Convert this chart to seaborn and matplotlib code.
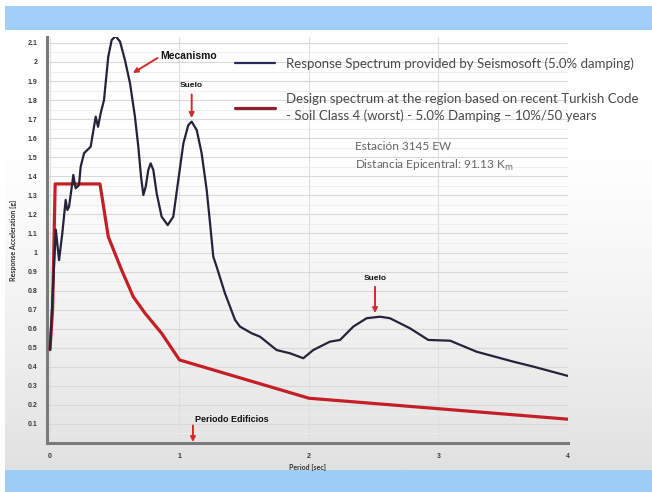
import numpy as np
import pandas as pd
import matplotlib
matplotlib.use("Agg")
import matplotlib.pyplot as plt
import seaborn as sns

# Response spectrum (Seismosoft, 5% damping): period [s], acceleration [g]
resp_period = [0.0, 0.045, 0.07, 0.095, 0.121, 0.134, 0.147, 0.172, 0.18,
               0.198, 0.224, 0.237, 0.263, 0.288, 0.314, 0.34, 0.353, 0.371,
               0.391, 0.417, 0.45, 0.476, 0.507, 0.541, 0.579, 0.618, 0.656,
               0.682, 0.703, 0.721, 0.739, 0.759, 0.777, 0.798, 0.824, 0.862,
               0.909, 0.952, 0.991, 1.03, 1.068, 1.094, 1.133, 1.171, 1.21,
               1.236, 1.261, 1.287, 1.351, 1.429, 1.467, 1.557, 1.622, 1.75,
               1.853, 1.956, 2.033, 2.085, 2.162, 2.24, 2.342, 2.445, 2.548,
               2.625, 2.78, 2.921, 3.09, 3.295, 3.578, 3.732, 4.0]
resp_accel = [0.49, 1.12, 0.96, 1.10, 1.276, 1.223, 1.24, 1.363, 1.407,
              1.337, 1.354, 1.45, 1.521, 1.538, 1.555, 1.66, 1.713, 1.66,
              1.73, 1.80, 2.028, 2.115, 2.136, 2.107, 2.01, 1.888, 1.713,
              1.555, 1.398, 1.302, 1.345, 1.433, 1.468, 1.433, 1.31, 1.188,
              1.144, 1.188, 1.381, 1.573, 1.669, 1.687, 1.643, 1.521, 1.328,
              1.153, 0.978, 0.925, 0.786, 0.646, 0.611, 0.576, 0.558, 0.488,
              0.471, 0.445, 0.488, 0.506, 0.532, 0.541, 0.611, 0.655, 0.663,
              0.655, 0.602, 0.541, 0.537, 0.479, 0.427, 0.401, 0.352]

# Design spectrum, Turkish Code, soil class 4, 5% damping, 10%/50 years
design_period = [0.0, 0.02, 0.04, 0.386, 0.45, 0.553, 0.643, 0.734, 0.862,
                 1.0, 2.0, 3.0, 4.0]
design_accel = [0.49, 0.70, 1.36, 1.36, 1.083, 0.908, 0.768, 0.681, 0.576,
                0.436, 0.235, 0.18, 0.125]

y_ticks = [0.1, 0.2, 0.3, 0.4, 0.5, 0.6, 0.7, 0.8, 0.9, 1.0, 1.1, 1.2, 1.3,
           1.4, 1.5, 1.6, 1.7, 1.8, 1.9, 2.0, 2.1]
x_ticks = [0, 1, 2, 3, 4]

resp_label = "Response Spectrum provided by Seismosoft (5.0% damping)"
design_label = ("Design spectrum at the region based on recent Turkish Code\n"
                "- Soil Class 4 (worst) - 5.0% Damping \u2013 10%/50 years")

sns.set_theme(style="white")
plt.rcParams["font.family"] = ["Lato", "DejaVu Sans"]

W, H = 652, 492
fig = plt.figure(figsize=(W / 100, H / 100), dpi=100)
fig.patch.set_facecolor("white")


def fx(px):
    return px / W


def fy(py):
    return 1 - py / H


# slide background: white-to-grey gradient with blue bands top and bottom
bg = fig.add_axes([0, 0, 1, 1], zorder=-10)
bg.set_xlim(0, W)
bg.set_ylim(H, 0)
bg.axis("off")
grad = np.linspace(0, 1, 256)[:, None]
grad = np.clip((grad - 0.25) / 0.75, 0, 1) ** 1.3
cmap = matplotlib.colors.LinearSegmentedColormap.from_list("bgc", ["#ffffff", "#e1e1e1"])
bg.imshow(grad, extent=[5, W, 470, 30], aspect="auto", cmap=cmap, vmin=0, vmax=1)
bg.add_patch(plt.Rectangle((5, 6), W - 5, 24, color="#a2cff7", lw=0))
bg.add_patch(plt.Rectangle((5, 470), W - 5, 22, color="#9ecdf7", lw=0))

# main plot area
x0, x1 = -0.02, 4.0
y0, y1 = 0.0, 2.13
left_px, right_px = 47.4, 568.0
bottom_px, top_px = 443.0, 443.0 - 2.13 * 190.5
ax = fig.add_axes([fx(left_px), fy(bottom_px), fx(right_px - left_px),
                   (bottom_px - top_px) / H])
ax.set_facecolor("none")

resp_df = pd.DataFrame({"period": resp_period, "accel": resp_accel})
design_df = pd.DataFrame({"period": design_period, "accel": design_accel})

sns.lineplot(data=resp_df, x="period", y="accel", ax=ax, color="#23243a",
             lw=1.6, sort=False, label=resp_label, zorder=4)
sns.lineplot(data=design_df, x="period", y="accel", ax=ax, color="#c41f26",
             lw=2.3, sort=False, label=design_label, zorder=3)
for ln in ax.lines:
    ln.set_solid_joinstyle("round")
    ln.set_solid_capstyle("round")

ax.set_xlim(x0, x1)
ax.set_ylim(y0, y1)
ax.set_xticks(x_ticks)
ax.set_xticklabels([f"{v:g}" for v in x_ticks])
ax.set_yticks(y_ticks)
ax.set_yticklabels([f"{v:g}" for v in y_ticks])
ax.set_yticks(np.arange(0.05, 2.13, 0.1), minor=True)
ax.tick_params(axis="both", length=0, labelsize=5, colors="#3a3a3a", pad=7)
for lab in ax.get_xticklabels() + ax.get_yticklabels():
    lab.set_family(["Liberation Sans", "DejaVu Sans"])
    lab.set_fontweight("bold")
ax.grid(axis="y", which="major", color="#d9d9d9", lw=0.8)
ax.grid(axis="y", which="minor", color="#ececec", lw=0.6)
ax.grid(axis="x", which="major", color="#dedede", lw=0.8)
for s in ["top", "right"]:
    ax.spines[s].set_visible(False)
for s in ["left", "bottom"]:
    ax.spines[s].set_color("#7a7a7a")
    ax.spines[s].set_linewidth(2.2)
ax.set_xlabel("Period [sec]", fontsize=5, color="#333333", labelpad=3,
              fontweight="bold")
ax.set_ylabel("Response Acceleration [g]", fontsize=5, color="#333333",
              labelpad=8, fontweight="bold")

leg = ax.legend(loc="upper left", bbox_to_anchor=(fx(235), fy(57)),
                bbox_transform=fig.transFigure, frameon=False, fontsize=9.5,
                handlelength=3.0, handletextpad=0.9, labelspacing=1.8,
                borderpad=0, borderaxespad=0)
for t in leg.get_texts():
    t.set_color("#4a4a4a")
    t.set_linespacing(1.4)
leg.legend_handles[1].set_color("#8e1f2c")
leg.legend_handles[0].set_color("#272a58")

fig.text(fx(355), fy(147), "Estación 3145 EW", fontsize=8.5, color="#666666",
         va="center")
fig.text(fx(355), fy(165), "Distancia Epicentral: 91.13 K$_{\\mathrm{m}}$",
         fontsize=8.5, color="#666666", va="center")

arrow = dict(arrowstyle="-|>", color="#d42a2a", lw=1.4, mutation_scale=7,
             shrinkA=0, shrinkB=0)
ann_font = dict(family=["Liberation Sans", "DejaVu Sans"], fontweight="bold",
                color="#111111")

ax.text(0.85, 2.03, "Mecanismo", fontsize=7.5, ha="left", va="center", **ann_font)
ax.annotate("", xy=(0.64, 1.942), xytext=(0.83, 2.021), arrowprops=arrow)

ax.text(1.094, 1.875, "Suelo", fontsize=6, ha="center", va="center", **ann_font)
ax.annotate("", xy=(1.094, 1.706), xytext=(1.094, 1.830), arrowprops=arrow)

ax.text(2.51, 0.865, "Suelo", fontsize=6, ha="center", va="center", **ann_font)
ax.annotate("", xy=(2.51, 0.682), xytext=(2.51, 0.820), arrowprops=arrow)

ax.text(1.12, 0.121, "Periodo Edificios", fontsize=6.5, ha="left", va="center",
        **ann_font)
ax.annotate("", xy=(1.104, 0.005), xytext=(1.104, 0.092), arrowprops=arrow)

fig.savefig("out.png", dpi=100)
